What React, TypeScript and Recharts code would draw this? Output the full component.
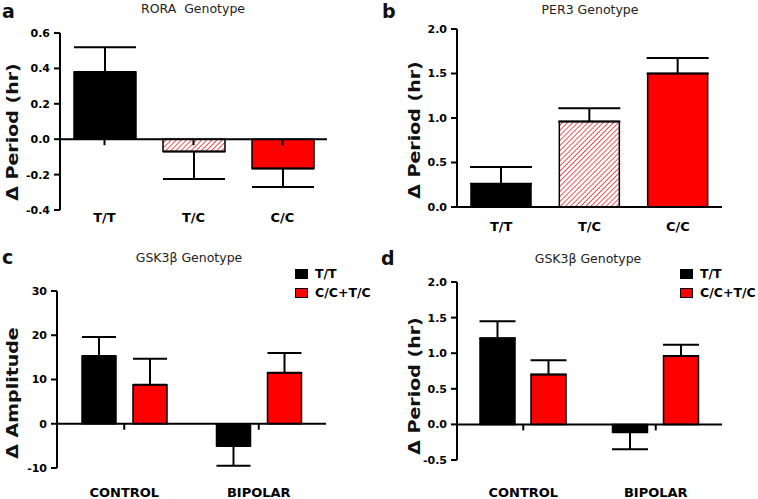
import { BarChart, Bar, XAxis, YAxis, ErrorBar, ReferenceLine, Legend, Cell } from 'recharts'

const genotypes = ['T/T', 'T/C', 'C/C']
const roraMean = [0.38, -0.07, -0.165]
const roraErr = [0.14, 0.155, 0.105]
const per3Mean = [0.26, 0.96, 1.5]
const per3Err = [0.19, 0.15, 0.175]

const groups = ['CONTROL', 'BIPOLAR']
const seriesNames = ['T/T', 'C/C+T/C']
const ampTT = [15.3, -5.0]
const ampTTErr = [4.3, 4.5]
const ampCT = [8.8, 11.5]
const ampCTErr = [5.9, 4.5]
const perTT = [1.21, -0.11]
const perTTErr = [0.24, 0.24]
const perCT = [0.7, 0.96]
const perCTErr = [0.2, 0.16]

const roraTicks = [-0.4, -0.2, 0, 0.2, 0.4, 0.6]
const per3Ticks = [0, 0.5, 1.0, 1.5, 2.0]
const ampTicks = [-10, 0, 10, 20, 30]
const perTicks = [-0.5, 0, 0.5, 1.0, 1.5, 2.0]

// error bars only point away from zero
const oneSided = (m: number, e: number) => (m >= 0 ? [0, e] : [e, 0])

const roraData = genotypes.map((g, i) => ({ g, v: roraMean[i], e: oneSided(roraMean[i], roraErr[i]) }))
const per3Data = genotypes.map((g, i) => ({ g, v: per3Mean[i], e: oneSided(per3Mean[i], per3Err[i]) }))
const ampData = groups.map((g, i) => ({
  g, tt: ampTT[i], ttE: oneSided(ampTT[i], ampTTErr[i]), ct: ampCT[i], ctE: oneSided(ampCT[i], ampCTErr[i]),
}))
const perData = groups.map((g, i) => ({
  g, tt: perTT[i], ttE: oneSided(perTT[i], perTTErr[i]), ct: perCT[i], ctE: oneSided(perCT[i], perCTErr[i]),
}))

const FONT = '"DejaVu Sans", "Liberation Sans", sans-serif'
const RED = '#ff0000'
const axisTick = { fill: '#000', fontSize: 11, fontWeight: 700, fontFamily: FONT }
const catTick = { fill: '#000', fontSize: 13, fontWeight: 700, fontFamily: FONT }
const line = { stroke: '#000', strokeWidth: 2 }

function Hatch({ id }: { id: string }) {
  return (
    <defs>
      <pattern id={id} patternUnits="userSpaceOnUse" width="3.6" height="3.6" patternTransform="rotate(45)">
        <rect width="3.6" height="3.6" fill="#fff" />
        <line x1="0" y1="0" x2="0" y2="3.6" stroke="#ee3b3b" strokeWidth="1.7" />
      </pattern>
    </defs>
  )
}

function SwatchLegend({ payload }: any) {
  const items = [...(payload || [])].sort((a: any, b: any) => seriesNames.indexOf(a.value) - seriesNames.indexOf(b.value))
  return (
    <div style={{ fontFamily: FONT, fontWeight: 700, fontSize: 12.5, lineHeight: '19px' }}>
      {items.map((p: any) => (
        <div key={p.value} style={{ display: 'flex', alignItems: 'center', whiteSpace: 'nowrap' }}>
          <span style={{ display: 'inline-block', width: 11, height: 8, background: p.color, border: '1.5px solid #000', marginRight: 7 }} />
          <span>{p.value}</span>
        </div>
      ))}
    </div>
  )
}

function Overlay({ x, y, size, bold, children }: any) {
  return (
    <div style={{ position: 'absolute', left: x, top: y, fontFamily: FONT, fontSize: size, fontWeight: bold ? 700 : 400, color: '#111', lineHeight: 1.2, whiteSpace: 'pre' }}>
      {children}
    </div>
  )
}

function Centered({ cx, y, size, children }: any) {
  return (
    <div style={{ position: 'absolute', left: cx - 100, width: 200, top: y, textAlign: 'center', fontFamily: FONT, fontSize: size, color: '#222', lineHeight: 1, whiteSpace: 'pre' }}>
      {children}
    </div>
  )
}

function YLabel({ cx, cy, children }: any) {
  return (
    <div style={{ position: 'absolute', left: cx - 80, top: cy - 10, width: 160, height: 20, textAlign: 'center', transform: 'rotate(-90deg) scaleX(1.15)', fontFamily: FONT, fontSize: 16.5, fontWeight: 700, color: '#111', lineHeight: '20px', whiteSpace: 'nowrap' }}>
      {children}
    </div>
  )
}

export default function App() {
  return (
    <div style={{ position: 'absolute', left: 0, top: 0, width: 758, height: 499, background: '#fff', overflow: 'hidden' }}>
      {/* a */}
      <div style={{ position: 'absolute', left: 0, top: 0 }}>
        <BarChart width={379} height={250} data={roraData} margin={{ top: 33, right: 52, bottom: 10, left: 10 }} barSize={62}>
          <Hatch id="hatchA" />
          <XAxis dataKey="g" axisLine={false} tickLine={false} tickSize={0} tickMargin={3} height={30} tick={catTick} />
          <YAxis width={50} domain={[-0.4, 0.6]} ticks={roraTicks} tickFormatter={(v) => v.toFixed(1)} tick={axisTick} axisLine={line} tickLine={line} tickSize={6} tickMargin={4} />
          <ReferenceLine y={0} {...line} />
          {genotypes.map((g) => (
            <ReferenceLine key={g} segment={[{ x: g, y: 0 }, { x: g, y: -0.034 }]} {...line} />
          ))}
          <Bar dataKey="v" stroke="#000" strokeWidth={1.5} isAnimationActive={false}>
            {roraData.map((d, i) => (
              <Cell key={d.g} fill={i === 0 ? '#000' : i === 1 ? 'url(#hatchA)' : RED} />
            ))}
            <ErrorBar dataKey="e" width={31} stroke="#000" strokeWidth={2} direction="y" />
          </Bar>
        </BarChart>
      </div>

      {/* b */}
      <div style={{ position: 'absolute', left: 379, top: 0 }}>
        <BarChart width={379} height={250} data={per3Data} margin={{ top: 29, right: 36, bottom: 13, left: 28 }} barSize={60}>
          <Hatch id="hatchB" />
          <XAxis dataKey="g" axisLine={false} tickLine={false} tickSize={0} tickMargin={15} height={30} tick={catTick} />
          <YAxis width={50} domain={[0, 2]} ticks={per3Ticks} tickFormatter={(v) => v.toFixed(1)} tick={axisTick} axisLine={line} tickLine={line} tickSize={6} tickMargin={4} />
          <ReferenceLine y={0} {...line} />
          <Bar dataKey="v" stroke="#000" strokeWidth={1.5} isAnimationActive={false}>
            {per3Data.map((d, i) => (
              <Cell key={d.g} fill={i === 0 ? '#000' : i === 1 ? 'url(#hatchB)' : RED} />
            ))}
            <ErrorBar dataKey="e" width={31} stroke="#000" strokeWidth={2} direction="y" />
          </Bar>
        </BarChart>
      </div>

      {/* c */}
      <div style={{ position: 'absolute', left: 0, top: 250 }}>
        <BarChart width={379} height={249} data={ampData} margin={{ top: 41, right: 53, bottom: 0, left: 7 }} barSize={34} barGap={17}>
          <XAxis dataKey="g" axisLine={false} tickLine={false} tickSize={0} tickMargin={20} height={31} tick={catTick} />
          <YAxis width={50} domain={[-10, 30]} ticks={ampTicks} tick={axisTick} axisLine={line} tickLine={line} tickSize={6} tickMargin={4} />
          <ReferenceLine y={0} {...line} />
          {groups.map((g) => (
            <ReferenceLine key={g} segment={[{ x: g, y: 0 }, { x: g, y: -1.36 }]} {...line} />
          ))}
          <Legend layout="vertical" align="center" verticalAlign="middle" content={<SwatchLegend />} wrapperStyle={{ left: 295, top: 14, width: 80, height: 40 }} />
          <Bar dataKey="tt" name={seriesNames[0]} fill="#000" stroke="#000" strokeWidth={1.5} isAnimationActive={false}>
            <ErrorBar dataKey="ttE" width={17} stroke="#000" strokeWidth={2} direction="y" />
          </Bar>
          <Bar dataKey="ct" name={seriesNames[1]} fill={RED} stroke="#000" strokeWidth={1.5} isAnimationActive={false}>
            <ErrorBar dataKey="ctE" width={17} stroke="#000" strokeWidth={2} direction="y" />
          </Bar>
        </BarChart>
      </div>

      {/* d */}
      <div style={{ position: 'absolute', left: 379, top: 250 }}>
        <BarChart width={379} height={249} data={perData} margin={{ top: 32, right: 36, bottom: 0, left: 28 }} barSize={35} barGap={16}>
          <XAxis dataKey="g" axisLine={false} tickLine={false} tickSize={0} tickMargin={28} height={39} tick={catTick} />
          <YAxis width={50} domain={[-0.5, 2]} ticks={perTicks} tickFormatter={(v) => v.toFixed(1)} tick={axisTick} axisLine={line} tickLine={line} tickSize={6} tickMargin={4} />
          <ReferenceLine y={0} {...line} />
          {groups.map((g) => (
            <ReferenceLine key={g} segment={[{ x: g, y: 0 }, { x: g, y: -0.084 }]} {...line} />
          ))}
          <Legend layout="vertical" align="center" verticalAlign="middle" content={<SwatchLegend />} wrapperStyle={{ left: 301, top: 14, width: 77, height: 40 }} />
          <Bar dataKey="tt" name={seriesNames[0]} fill="#000" stroke="#000" strokeWidth={1.5} isAnimationActive={false}>
            <ErrorBar dataKey="ttE" width={18} stroke="#000" strokeWidth={2} direction="y" />
          </Bar>
          <Bar dataKey="ct" name={seriesNames[1]} fill={RED} stroke="#000" strokeWidth={1.5} isAnimationActive={false}>
            <ErrorBar dataKey="ctE" width={18} stroke="#000" strokeWidth={2} direction="y" />
          </Bar>
        </BarChart>
      </div>

      <Overlay x={2} y={0} size={19} bold>a</Overlay>
      <Overlay x={382} y={0} size={19} bold>b</Overlay>
      <Overlay x={2} y={246} size={19} bold>c</Overlay>
      <Overlay x={381} y={247} size={19} bold>d</Overlay>

      <Centered cx={193} y={3} size={12.5}>{'RORA  Genotype'}</Centered>
      <Centered cx={590} y={4} size={12.5}>PER3 Genotype</Centered>
      <Centered cx={189} y={252} size={12.5}>GSK3β Genotype</Centered>
      <Centered cx={588} y={253} size={12.5}>GSK3β Genotype</Centered>

      <YLabel cx={13} cy={132}>Δ Period (hr)</YLabel>
      <YLabel cx={415} cy={130}>Δ Period (hr)</YLabel>
      <YLabel cx={13} cy={393}>Δ Amplitude</YLabel>
      <YLabel cx={415} cy={386}>Δ Period (hr)</YLabel>
    </div>
  )
}
